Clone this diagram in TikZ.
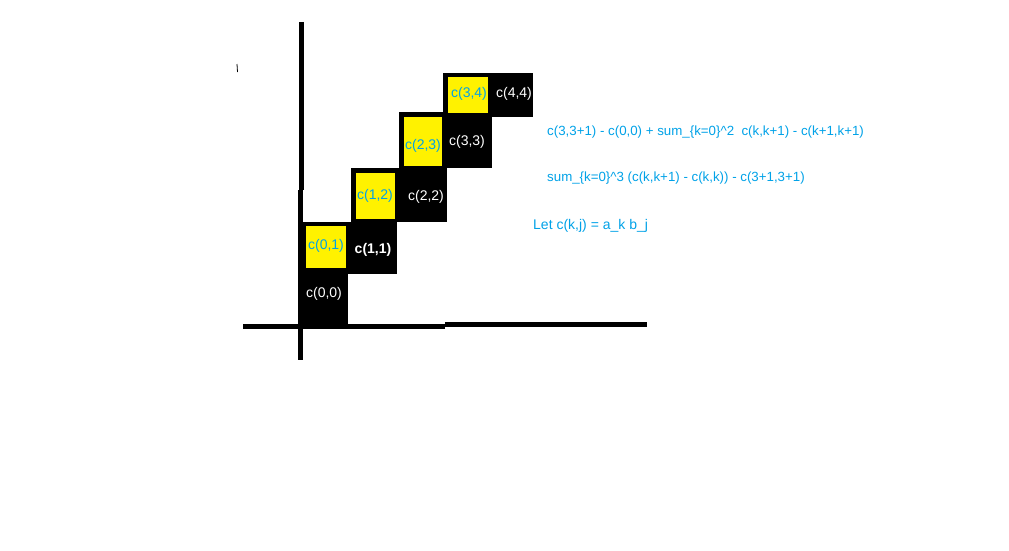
\documentclass[tikz,border=0pt]{standalone}
\usepackage{fontspec}
\setmainfont{Liberation Sans}
\definecolor{pblue}{RGB}{0,162,232}
\definecolor{pyellow}{RGB}{255,242,0}
\begin{document}
\begin{tikzpicture}[x=1pt,y=-1pt,
  axis/.style={line width=5pt},
  blk/.style={fill=black},
  yel/.style={fill=pyellow},
  wlab/.style={text=white,font=\fontsize{14}{15}\selectfont,inner sep=0pt},
  blab/.style={text=pblue,font=\fontsize{14}{15}\selectfont,inner sep=0pt},
  note/.style={text=pblue,font=\fontsize{13.3}{15}\selectfont,inner sep=0pt,anchor=west}]
\useasboundingbox[fill=white] (0,0) rectangle (1009,551);
% axes
\draw[axis] (301,22) -- (301,190);
\draw[axis] (300,190) -- (300,360);
\draw[axis] (243,326) -- (445,326);
\draw[axis] (445,324.5) -- (647,324.5);
% small mark
\draw[line width=0.8pt] (237,64) -- (237.5,72);
% cells
\fill[blk] (298,273) rectangle (348,326);
\fill[blk] (298,222) rectangle (397,274);
\fill[yel] (306,226) rectangle (346,268);
\fill[blk] (351,168) rectangle (447,222);
\fill[yel] (356,173) rectangle (395,219);
\fill[blk] (399,112) rectangle (492,168);
\fill[yel] (404,117) rectangle (442,166);
\fill[blk] (443,73) rectangle (533,117);
\fill[yel] (448,77) rectangle (488,113);
% labels
\node[wlab] (c00) at (324,294) {c(0,0)};
\node[blab] (c01) at (326,246) {c(0,1)};
\node[wlab,font=\bfseries\fontsize{14}{15}\selectfont] (c11) at (373,250) {c(1,1)};
\node[blab] (c12) at (375,196) {c(1,2)};
\node[wlab] (c22) at (426,197) {c(2,2)};
\node[blab] (c23) at (423,146) {c(2,3)};
\node[wlab] (c33) at (467,142) {c(3,3)};
\node[blab] (c34) at (469,94) {c(3,4)};
\node[wlab] (c44) at (514,94) {c(4,4)};
% notes
\node[note] (n1) at (547,132) {c(3,3+1) - c(0,0) + sum\_\{k=0\}\^{}2~~c(k,k+1) - c(k+1,k+1)};
\node[note] (n2) at (547,178) {sum\_\{k=0\}\^{}3 (c(k,k+1) - c(k,k)) - c(3+1,3+1)};
\node[note,font=\fontsize{14}{15}\selectfont] (n3) at (533,226) {Let c(k,j) = a\_k b\_j};
\end{tikzpicture}
\end{document}
